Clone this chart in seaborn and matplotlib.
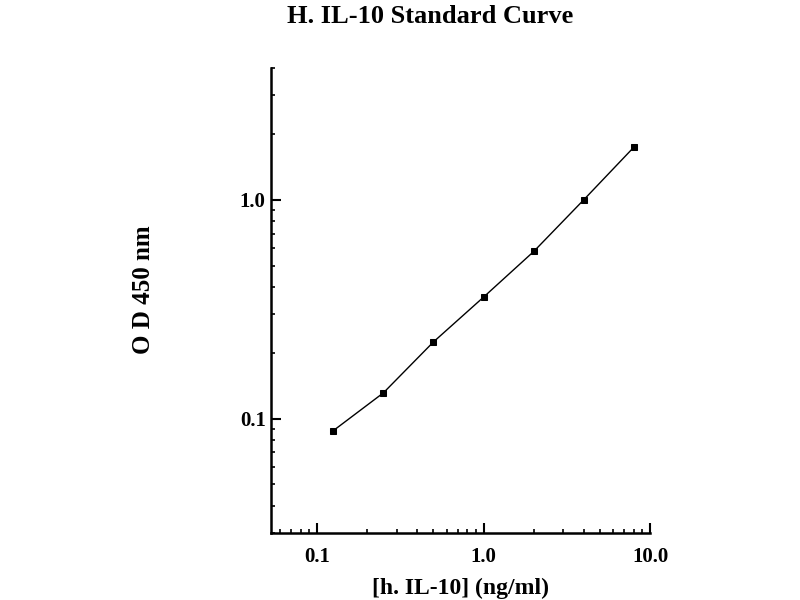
import matplotlib
matplotlib.use("Agg")
import matplotlib.pyplot as plt
import seaborn as sns
import pandas as pd
from matplotlib.ticker import FixedLocator, FixedFormatter, LogLocator, NullFormatter

concentration = [0.125, 0.25, 0.5, 1.0, 2.0, 4.0, 8.0]
od450 = [0.088, 0.131, 0.224, 0.359, 0.58, 1.0, 1.74]
x_ticks = [0.1, 1.0, 10.0]
x_tick_labels = ["0.1", "1.0", "10.0"]
y_ticks = [0.1, 1.0]
y_tick_labels = ["0.1", "1.0"]

sns.set_theme(style="ticks")
plt.rcParams["font.family"] = ["Liberation Serif", "DejaVu Serif"]
plt.rcParams["font.weight"] = "bold"
plt.rcParams["text.color"] = "black"
plt.rcParams["axes.labelcolor"] = "black"

df = pd.DataFrame({"conc": concentration, "od": od450})

fig = plt.figure(figsize=(8, 6), dpi=100)
ax = fig.add_axes([0.339, 0.1117, 0.4736, 0.775])

sns.lineplot(data=df, x="conc", y="od", ax=ax, color="black", linewidth=1.0,
             marker="s", markersize=4.5, markeredgecolor="black", markerfacecolor="black")

ax.set_xscale("log")
ax.set_yscale("log")
ax.set_xlim(0.053, 10.0)
ax.set_ylim(0.030, 4.0)

ax.xaxis.set_major_locator(FixedLocator(x_ticks))
ax.xaxis.set_major_formatter(FixedFormatter(x_tick_labels))
ax.yaxis.set_major_locator(FixedLocator(y_ticks))
ax.yaxis.set_major_formatter(FixedFormatter(y_tick_labels))
ax.xaxis.set_minor_locator(LogLocator(base=10, subs=range(2, 10)))
ax.yaxis.set_minor_locator(LogLocator(base=10, subs=range(2, 10)))
ax.xaxis.set_minor_formatter(NullFormatter())
ax.yaxis.set_minor_formatter(NullFormatter())

ax.tick_params(which="major", direction="in", length=7, width=1.5, labelsize=15, colors="black")
ax.tick_params(axis="x", which="major", pad=10)
ax.tick_params(axis="y", which="major", pad=4)
ax.tick_params(which="minor", direction="in", length=3, width=1.2, colors="black")
for lab in ax.get_xticklabels() + ax.get_yticklabels():
    lab.set_fontweight("bold")

sns.despine(ax=ax)
for s in ["left", "bottom"]:
    ax.spines[s].set_linewidth(1.8)
    ax.spines[s].set_color("black")

ax.set_xlabel("[h. IL-10] (ng/ml)", fontsize=17, fontweight="bold", labelpad=8)
ax.set_ylabel("O D 450 nm", fontsize=18, fontweight="bold")
ax.yaxis.set_label_coords(-0.338, 0.523)
ax.yaxis.label.set_verticalalignment("center")

fig.text(0.5375, 0.972, "H. IL-10 Standard Curve", ha="center", va="center",
         fontsize=19, fontweight="bold")

fig.savefig("out.png", dpi=100, facecolor="white")
